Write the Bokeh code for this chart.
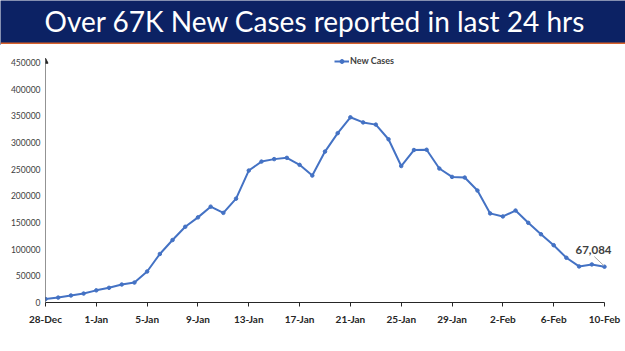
from bokeh.plotting import figure
from bokeh.layouts import column
from bokeh.models import FixedTicker, Legend, LegendItem, Arrow, NormalHead, Range1d, Label
from bokeh.core.properties import value
from bokeh.embed import file_html
from bokeh.resources import INLINE

title_text = "Over 67K New Cases reported in last 24 hrs"

dates = ["28-Dec", "29-Dec", "30-Dec", "31-Dec",
         "1-Jan", "2-Jan", "3-Jan", "4-Jan", "5-Jan", "6-Jan", "7-Jan", "8-Jan",
         "9-Jan", "10-Jan", "11-Jan", "12-Jan", "13-Jan", "14-Jan", "15-Jan", "16-Jan",
         "17-Jan", "18-Jan", "19-Jan", "20-Jan", "21-Jan", "22-Jan", "23-Jan", "24-Jan",
         "25-Jan", "26-Jan", "27-Jan", "28-Jan", "29-Jan", "30-Jan", "31-Jan",
         "1-Feb", "2-Feb", "3-Feb", "4-Feb", "5-Feb", "6-Feb", "7-Feb", "8-Feb",
         "9-Feb", "10-Feb"]
new_cases = [6358, 9195, 13154, 16764,
             22775, 27553, 33750, 37379, 58097, 90928, 117100, 141986,
             159632, 179723, 168063, 194720, 247417, 264202, 268833, 271202,
             258089, 238018, 282970, 317532, 347254, 337704, 333533, 306064,
             255874, 285914, 286384, 251209, 235532, 234281, 209918,
             167059, 161386, 172433, 149394, 127952, 107474, 83876, 67597,
             71365, 67084]
y_ticks = [0, 50000, 100000, 150000, 200000, 250000, 300000, 350000, 400000, 450000]
series_name = "New Cases"
callout = "67,084"

W = 625
BANNER_H = 45
CHART_H = 351 - BANNER_H

# ---- banner ----
b = figure(width=W, height=BANNER_H, output_backend="svg", toolbar_location=None,
           x_range=Range1d(0, W), y_range=Range1d(0, BANNER_H),
           min_border=0, min_border_left=0, min_border_right=0,
           min_border_top=0, min_border_bottom=0)
b.frame_align = False
b.axis.visible = False
b.grid.visible = False
b.outline_line_color = None
b.background_fill_color = "#0C2264"
b.border_fill_color = "#0C2264"
b.quad(left=[0], right=[W], bottom=[0], top=[1.5], color="white", line_color=None)
b.quad(left=[0], right=[W], bottom=[1.5], top=[3], color="#D9622B", line_color=None)
b.text(x=[W / 2 + 2], y=[BANNER_H / 2 + 2], text=[title_text], text_color="white",
       text_font=value("Lato"), text_font_size="28px",
       text_align="center", text_baseline="middle")

# ---- chart ----
x = list(range(len(dates)))
last_i = len(dates) - 1
p = figure(width=W, height=CHART_H, output_backend="svg", toolbar_location=None,
           x_range=Range1d(0, 45.26), y_range=Range1d(0, 474375),
           min_border_left=45, min_border_right=5, min_border_top=4, min_border_bottom=49)
p.frame_align = False
p.grid.visible = False
p.outline_line_color = None
p.background_fill_color = "white"
p.border_fill_color = "white"

line_r = p.line(x, new_cases, line_color="#4472C4", line_width=2)
sc_r = p.scatter(x, new_cases, size=3.5, marker="circle", fill_color="#4472C4",
                 line_color="#4472C4")

tick_idx = list(range(0, len(dates), 4))
p.xaxis.ticker = FixedTicker(ticks=tick_idx)
p.xaxis.bounds = (0, last_i)
p.xaxis.major_label_overrides = {i: dates[i] for i in tick_idx}
p.xaxis.minor_tick_line_color = None
p.xaxis.major_tick_in = 0
p.xaxis.major_tick_out = 4
p.xaxis.axis_line_color = "#262626"
p.xaxis.major_tick_line_color = "#262626"
p.xaxis.major_label_text_font = "Lato"
p.xaxis.major_label_text_font_size = "10px"
p.xaxis.major_label_text_font_style = "bold"
p.xaxis.major_label_text_color = "#262626"
p.xaxis.major_label_standoff = 6

p.yaxis.ticker = FixedTicker(ticks=y_ticks)
p.yaxis.major_label_overrides = {t: str(t) for t in y_ticks}
p.yaxis.minor_tick_line_color = None
p.yaxis.major_tick_in = 0
p.yaxis.major_tick_out = 0
p.yaxis.axis_line_color = None
p.yaxis.major_label_text_font = "Lato"
p.yaxis.major_label_text_font_size = "8.5px"
p.yaxis.major_label_text_color = "#404040"
p.yaxis.major_label_standoff = 5

p.add_layout(Arrow(end=NormalHead(size=5, fill_color="#262626", line_color="#262626"),
                   x_start=0, y_start=0, x_end=0, y_end=458000,
                   line_color="#262626", line_width=1))

legend = Legend(items=[LegendItem(label=series_name, renderers=[line_r, sc_r])],
                location=(289, 236), orientation="horizontal",
                border_line_color=None, background_fill_alpha=0,
                padding=0, margin=0, spacing=0,
                glyph_width=15, glyph_height=10, label_height=10,
                label_standoff=1,
                label_text_font="Lato", label_text_font_size="9px",
                label_text_font_style="bold", label_text_color="#404040")
p.add_layout(legend)

last_v = new_cases[-1]
p.segment(x0=[last_i - 0.8], y0=[last_v + 19000], x1=[last_i - 0.05], y1=[last_v + 2000],
          line_color="#A6A6A6", line_width=1)
p.add_layout(Label(x=last_i, y=last_v, x_offset=-11, y_offset=13, text=callout,
                   text_font="Lato", text_font_size="11.5px", text_font_style="bold",
                   text_color="#404040", text_align="center", text_baseline="bottom"))

layout = column(b, p, spacing=0)
open("out.html", "w").write(file_html(layout, INLINE))
